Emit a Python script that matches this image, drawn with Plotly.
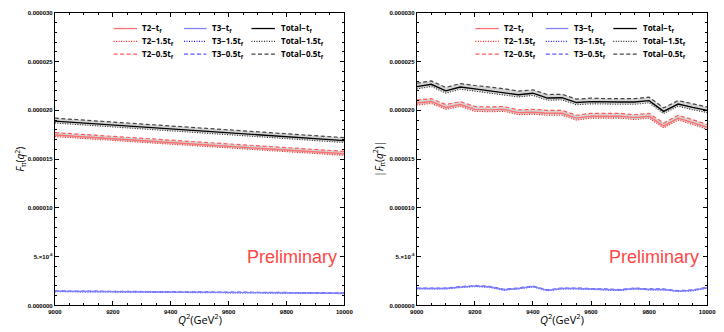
import plotly.graph_objects as go

# ---------------- data ----------------
q2 = [9000, 9050, 9100, 9150, 9200, 9250, 9300, 9350, 9400, 9450, 9500,
      9550, 9600, 9650, 9700, 9750, 9800, 9850, 9900, 9950, 10000]

# left panel: F_pi(q^2)
L_T2_tf  = [17.47, 17.38, 17.28, 17.19, 17.09, 16.99, 16.90, 16.80, 16.70, 16.60, 16.50,
            16.41, 16.32, 16.22, 16.13, 16.03, 15.94, 15.84, 15.74, 15.65, 15.55]
L_T2_15  = [17.30, 17.21, 17.11, 17.02, 16.92, 16.82, 16.73, 16.63, 16.53, 16.43, 16.33,
            16.24, 16.15, 16.05, 15.96, 15.86, 15.77, 15.67, 15.57, 15.48, 15.38]
L_T2_05  = [17.72, 17.63, 17.53, 17.44, 17.34, 17.24, 17.15, 17.05, 16.95, 16.85, 16.75,
            16.66, 16.57, 16.47, 16.38, 16.28, 16.19, 16.09, 15.99, 15.90, 15.80]
L_T3_tf  = [1.45, 1.44, 1.43, 1.42, 1.41, 1.40, 1.39, 1.38, 1.37, 1.36, 1.35,
            1.34, 1.33, 1.32, 1.31, 1.30, 1.29, 1.28, 1.27, 1.26, 1.25]
L_T3_15  = [1.41, 1.40, 1.39, 1.38, 1.37, 1.36, 1.35, 1.34, 1.33, 1.32, 1.31,
            1.30, 1.29, 1.28, 1.27, 1.26, 1.25, 1.24, 1.23, 1.22, 1.21]
L_T3_05  = [1.49, 1.48, 1.47, 1.46, 1.45, 1.44, 1.43, 1.42, 1.41, 1.40, 1.39,
            1.38, 1.37, 1.36, 1.35, 1.34, 1.33, 1.32, 1.31, 1.30, 1.29]
L_Tot_tf = [18.90, 18.80, 18.68, 18.60, 18.49, 18.38, 18.28, 18.18, 18.08, 17.96, 17.85,
            17.76, 17.66, 17.57, 17.48, 17.39, 17.30, 17.17, 17.08, 16.99, 16.90]
L_Tot_15 = [18.70, 18.60, 18.48, 18.40, 18.29, 18.18, 18.08, 17.98, 17.88, 17.76, 17.65,
            17.56, 17.46, 17.37, 17.28, 17.19, 17.10, 16.97, 16.88, 16.79, 16.70]
L_Tot_05 = [19.20, 19.10, 18.98, 18.90, 18.79, 18.68, 18.58, 18.48, 18.38, 18.26, 18.15,
            18.06, 17.96, 17.87, 17.78, 17.69, 17.60, 17.47, 17.38, 17.29, 17.20]

# right panel: |F_pi(q^2)|
R_T2_tf  = [20.75, 20.90, 20.30, 20.60, 20.10, 20.05, 20.10, 19.75, 19.80, 19.70, 19.70,
            19.20, 19.40, 19.40, 19.40, 19.25, 19.40, 18.40, 19.20, 18.75, 18.25]
R_T2_15  = [20.55, 20.70, 20.10, 20.40, 19.90, 19.85, 19.90, 19.55, 19.60, 19.50, 19.50,
            19.00, 19.20, 19.20, 19.20, 19.05, 19.20, 18.20, 19.00, 18.55, 18.05]
R_T2_05  = [21.05, 21.20, 20.60, 20.90, 20.40, 20.35, 20.40, 20.05, 20.10, 20.00, 20.00,
            19.50, 19.70, 19.70, 19.70, 19.55, 19.70, 18.70, 19.50, 19.05, 18.55]
R_T3_tf  = [1.74, 1.74, 1.74, 1.88, 1.98, 1.91, 1.61, 1.74, 1.95, 1.54, 1.74,
            1.74, 1.68, 1.61, 1.58, 1.74, 1.64, 1.64, 1.47, 1.54, 1.81]
R_T3_15  = [1.69, 1.69, 1.69, 1.83, 1.93, 1.86, 1.56, 1.69, 1.90, 1.49, 1.69,
            1.69, 1.63, 1.56, 1.53, 1.69, 1.59, 1.59, 1.42, 1.49, 1.76]
R_T3_05  = [1.79, 1.79, 1.79, 1.93, 2.03, 1.96, 1.66, 1.79, 2.00, 1.59, 1.79,
            1.79, 1.73, 1.66, 1.63, 1.79, 1.69, 1.69, 1.52, 1.59, 1.86]
R_Tot_tf = [22.43, 22.67, 22.00, 22.40, 22.20, 22.00, 21.86, 21.60, 21.76, 21.26, 21.30,
            20.80, 20.90, 20.85, 20.85, 20.85, 21.00, 19.90, 20.65, 20.30, 20.00]
R_Tot_15 = [22.20, 22.44, 21.77, 22.17, 21.97, 21.77, 21.63, 21.37, 21.53, 21.03, 21.07,
            20.57, 20.67, 20.62, 20.62, 20.62, 20.77, 19.67, 20.42, 20.07, 19.77]
R_Tot_05 = [22.78, 23.02, 22.35, 22.75, 22.55, 22.42, 22.22, 21.98, 22.10, 21.62, 21.65,
            21.15, 21.25, 21.20, 21.20, 21.20, 21.35, 20.25, 21.00, 20.65, 20.35]

SCALE = 1e-6  # values above are in units of 1e-6

x_tickvals = [9000, 9200, 9400, 9600, 9800, 10000]
x_ticktext = ["9000", "9200", "9400", "9600", "9800", "10000"]
y_tickvals = [0, 5e-6, 10e-6, 15e-6, 20e-6, 25e-6, 30e-6]
y_ticktext = ["0.000000", "5.\u00d710<sup>-6</sup>", "0.000010", "0.000015",
              "0.000020", "0.000025", "0.000030"]

legend_labels = [
    ["T2\u2212t<sub>f</sub>", "T3\u2212t<sub>f</sub>", "Total\u2212t<sub>f</sub>"],
    ["T2\u22121.5t<sub>f</sub>", "T3\u22121.5t<sub>f</sub>", "Total\u22121.5t<sub>f</sub>"],
    ["T2\u22120.5t<sub>f</sub>", "T3\u22120.5t<sub>f</sub>", "Total\u22120.5t<sub>f</sub>"],
]

# ---------------- style ----------------
W, H = 724, 332
colors = {
    "T2": ("rgb(255,112,112)", "rgb(255,30,30)", "rgb(255,90,90)"),
    "T3": ("rgb(128,128,255)", "rgb(30,30,255)", "rgb(90,90,255)"),
    "Tot": ("rgb(0,0,0)", "rgb(40,40,40)", "rgb(70,70,70)"),
}
DOT = "1px,1.5px"
DASH = "4px,2.5px"
band = "rgba(160,160,160,0.45)"

fig = go.Figure()

def sc(v):
    return [a * SCALE for a in v]

def add_group(xa, ya, tf, t15, t05, key):
    c_tf, c_15, c_05 = colors[key]
    fig.add_trace(go.Scatter(x=q2, y=sc(t15), mode="lines", xaxis=xa, yaxis=ya,
                             line=dict(color=c_15, width=1.1, dash=DOT), showlegend=False))
    fig.add_trace(go.Scatter(x=q2, y=sc(t05), mode="lines", xaxis=xa, yaxis=ya,
                             line=dict(color=c_05, width=1.2, dash=DASH),
                             fill="tonexty", fillcolor=band, showlegend=False))
    fig.add_trace(go.Scatter(x=q2, y=sc(tf), mode="lines", xaxis=xa, yaxis=ya,
                             line=dict(color=c_tf, width=1.4), showlegend=False))

add_group("x", "y", L_T3_tf, L_T3_15, L_T3_05, "T3")
add_group("x", "y", L_T2_tf, L_T2_15, L_T2_05, "T2")
add_group("x", "y", L_Tot_tf, L_Tot_15, L_Tot_05, "Tot")
add_group("x2", "y2", R_T3_tf, R_T3_15, R_T3_05, "T3")
add_group("x2", "y2", R_T2_tf, R_T2_15, R_T2_05, "T2")
add_group("x2", "y2", R_Tot_tf, R_Tot_15, R_Tot_05, "Tot")

panels = [(49, 345), (419, 716)]
top_px, bot_px = 10, 308

def px_x(p):
    return p / W

def px_y(p):
    return 1 - p / H

tickfont = dict(family="Liberation Sans, Arial", size=6, color="black", weight="bold")

def xaxis_cfg(i):
    l, r = panels[i]
    return dict(domain=[px_x(l), px_x(r)], range=[9000, 10000], anchor="y" if i == 0 else "y2",
                tickvals=x_tickvals, ticktext=x_ticktext, tickfont=tickfont,
                showline=True, linecolor="black", linewidth=1, mirror="ticks",
                ticks="inside", ticklen=4, tickwidth=1, tickcolor="black",
                showgrid=False, zeroline=False,
                minor=dict(ticks="inside", ticklen=2, tickwidth=1, tickcolor="black",
                           dtick=50, showgrid=False))

def yaxis_cfg(i):
    return dict(domain=[px_y(bot_px), px_y(top_px)], range=[0, 30e-6],
                anchor="x" if i == 0 else "x2",
                tickvals=y_tickvals, ticktext=y_ticktext, tickfont=tickfont,
                showline=True, linecolor="black", linewidth=1, mirror="ticks",
                ticks="inside", ticklen=4, tickwidth=1, tickcolor="black",
                showgrid=False, zeroline=False,
                minor=dict(ticks="inside", ticklen=2, tickwidth=1, tickcolor="black",
                           dtick=1e-6, showgrid=False))

fig.update_layout(
    width=W, height=H, margin=dict(l=0, r=0, t=0, b=0),
    paper_bgcolor="white", plot_bgcolor="white", showlegend=False,
    xaxis=xaxis_cfg(0), xaxis2=xaxis_cfg(1),
    yaxis=yaxis_cfg(0), yaxis2=yaxis_cfg(1),
)

annotations = []
shapes = []
keys = ["T2", "T3", "Tot"]
dashes = ["solid", DOT, DASH]
rows_y = [26, 39, 52]
col_line = [(60, 84), (132, 155), (201, 225)]
col_text = [87, 159, 229]
for i, (l, r) in enumerate(panels):
    for ri in range(3):
        for ci in range(3):
            c = colors[keys[ci]][ri]
            x0, x1 = col_line[ci]
            shapes.append(dict(type="line", xref="paper", yref="paper",
                               x0=px_x(l + x0), x1=px_x(l + x1),
                               y0=px_y(rows_y[ri]), y1=px_y(rows_y[ri]),
                               line=dict(color=c, width=1.3, dash=dashes[ri])))
            annotations.append(dict(xref="paper", yref="paper", x=px_x(l + col_text[ci]),
                                    y=px_y(rows_y[ri]), xanchor="left", yanchor="middle",
                                    text="<b>" + legend_labels[ri][ci] + "</b>", showarrow=False,
                                    font=dict(family="Open Sans, Liberation Sans", size=8,
                                              color="black")))
    # Preliminary
    annotations.append(dict(xref="paper", yref="paper", x=px_x((l + r) / 2 + 94), y=px_y(259),
                            xanchor="center", yanchor="middle", text="Preliminary",
                            showarrow=False,
                            font=dict(family="Liberation Sans, Arial", size=18,
                                      color="rgb(255,70,70)")))
    # x title
    annotations.append(dict(xref="paper", yref="paper", x=px_x((l + r) / 2), y=px_y(322),
                            xanchor="center", yanchor="middle",
                            text="<i>Q</i><sup>2</sup>(GeV<sup>2</sup>)", showarrow=False,
                            font=dict(family="Open Sans, Liberation Sans", size=11,
                                      color="black")))

annotations.append(dict(xref="paper", yref="paper", x=px_x(13), y=px_y(159),
                        xanchor="center", yanchor="middle", textangle=-90,
                        text="<i>F</i><sub>\u03c0</sub>(<i>q</i><sup>2</sup>)", showarrow=False,
                        font=dict(family="Open Sans, Liberation Sans", size=10, color="black")))
annotations.append(dict(xref="paper", yref="paper", x=px_x(380), y=px_y(159),
                        xanchor="center", yanchor="middle", textangle=-90,
                        text="|<i>F</i><sub>\u03c0</sub>(<i>q</i><sup>2</sup>)|", showarrow=False,
                        font=dict(family="Open Sans, Liberation Sans", size=10, color="black")))

fig.update_layout(annotations=annotations, shapes=shapes)
fig.write_html("out.html")
